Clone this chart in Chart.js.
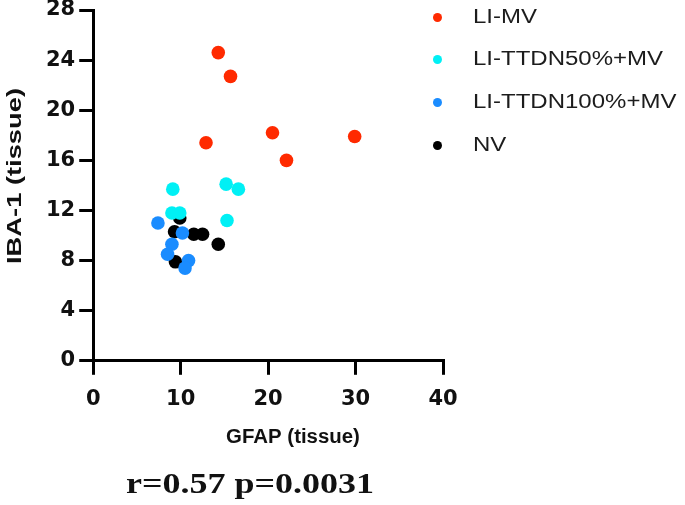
<!DOCTYPE html>
<html>
<head>
<meta charset="utf-8">
<script src="https://cdn.jsdelivr.net/npm/chart.js@4"></script>
<style>
  html, body { margin: 0; padding: 0; background: #fff; }
  #wrap { width: 685px; height: 505px; position: relative; }
  #legend { position: absolute; left: 433px; top: 0; margin: 0; padding: 0; list-style: none; }
  #legend li { position: absolute; left: 0; height: 24px; width: 250px; }
  #legend .dot { position: absolute; left: 0; top: 7.5px; width: 9px; height: 9px; border-radius: 50%; }
  #legend .txt { position: absolute; left: 40px; top: 0; line-height: 24px; white-space: nowrap;
                 font: 20px Arial, "Liberation Sans", sans-serif; color: #1c1c1c;
                 transform: scaleX(1.2); transform-origin: left center; }
</style>
</head>
<body>
<div id="wrap">
  <canvas id="scatter"></canvas>
  <ul id="legend"></ul>
</div>
<script>
// GFAP (x) vs IBA-1 (y)
const groupNames = ['LI-MV', 'LI-TTDN50%+MV', 'LI-TTDN100%+MV', 'NV'];
const groupColors = ['#ff2a00', '#00f0f5', '#1a8cff', '#000000'];

const liMvX = [14.3, 15.7, 12.9, 20.5, 22.1, 29.9];
const liMvY = [24.6, 22.7, 17.4, 18.2, 16.0, 17.9];

const ttdn50X = [9.1, 15.2, 16.6, 15.3, 9.0, 9.9];
const ttdn50Y = [13.7, 14.1, 13.7, 11.2, 11.8, 11.8];

const ttdn100X = [7.4, 10.2, 9.0, 8.5, 10.9, 10.5];
const ttdn100Y = [11.0, 10.2, 9.3, 8.5, 8.0, 7.4];

const nvX = [9.9, 9.3, 11.5, 12.5, 14.3, 9.4];
const nvY = [11.4, 10.3, 10.1, 10.1, 9.3, 7.9];

const xTicks = [0, 10, 20, 30, 40];
const yTicks = [0, 4, 8, 12, 16, 20, 24, 28];
const xTitle = 'GFAP (tissue)';
const yTitle = 'IBA-1 (tissue)';
const statsText = 'r=0.57 p=0.0031';

function pts(xs, ys) {
    return xs.map((x, i) => ({ x: x, y: ys[i] }));
}

const groups = [[liMvX, liMvY], [ttdn50X, ttdn50Y], [ttdn100X, ttdn100Y], [nvX, nvY]];

// legend on the right, one row per group
const legendTops = [5, 47, 90, 133];
const legendEl = document.getElementById('legend');
legendEl.innerHTML = groupNames.map((name, i) =>
    `<li style="top:${legendTops[i]}px"><span class="dot" style="background:${groupColors[i]}"></span><span class="txt">${name}</span></li>`
).join('');

// axis titles and the r / p line (the original sets them off-centre and stretched)
function drawText(ctx, text, x, y, font, sx, rot) {
    ctx.save();
    ctx.translate(x, y);
    if (rot) ctx.rotate(rot);
    ctx.scale(sx, 1);
    ctx.font = font;
    ctx.fillStyle = '#111';
    ctx.textAlign = 'center';
    ctx.textBaseline = 'middle';
    ctx.fillText(text, 0, 0);
    ctx.restore();
}

const textLayer = {
    id: 'textLayer',
    afterDraw(chart) {
        const ctx = chart.ctx;
        drawText(ctx, yTitle, 15, 176, 'bold 21px Arial, "Liberation Sans", sans-serif', 1.3, -Math.PI / 2);
        drawText(ctx, xTitle, 293, 437, 'bold 20px Arial, "Liberation Sans", sans-serif', 1.02, 0);
        ctx.save();
        ctx.translate(250, 493);
        ctx.scale(1.2, 1);
        ctx.font = 'bold 30px "Liberation Serif", "Times New Roman", serif';
        ctx.fillStyle = '#111';
        ctx.textAlign = 'center';
        ctx.fillText(statsText, 0, 0);
        ctx.restore();
    }
};

const tickFont = { family: '"DejaVu Sans", sans-serif', size: 21, weight: 'bold' };

new Chart(document.getElementById('scatter'), {
    type: 'scatter',
    data: {
        datasets: groups.map((g, i) => ({
            label: groupNames[i],
            data: pts(g[0], g[1]),
            backgroundColor: groupColors[i],
            borderColor: groupColors[i],
            pointRadius: 6.8,
            pointHoverRadius: 6.8,
            borderWidth: 0
        }))
    },
    options: {
        responsive: true,
        maintainAspectRatio: false,
        animation: false,
        layout: { padding: { top: 10, left: 42, right: 242, bottom: 81 } },
        plugins: {
            tooltip: { enabled: false },
            legend: { display: false }
        },
        scales: {
            x: {
                type: 'linear',
                min: 0,
                max: 40,
                afterBuildTicks: (s) => { s.ticks = xTicks.map(v => ({ value: v })); },
                grid: { drawOnChartArea: false, drawTicks: true, tickLength: 14, lineWidth: 3, color: '#000' },
                border: { width: 3, color: '#000' },
                ticks: { color: '#111', font: tickFont, padding: 12, maxRotation: 0 }
            },
            y: {
                type: 'linear',
                min: 0,
                max: 28,
                afterBuildTicks: (s) => { s.ticks = yTicks.map(v => ({ value: v })); },
                afterFit: (s) => { s.paddingTop = 0; },
                grid: { drawOnChartArea: false, drawTicks: true, tickLength: 14, lineWidth: 3, color: '#000' },
                border: { width: 3, color: '#000' },
                ticks: { color: '#111', font: tickFont, padding: 4 }
            }
        }
    },
    plugins: [textLayer]
});
</script>
</body>
</html>
